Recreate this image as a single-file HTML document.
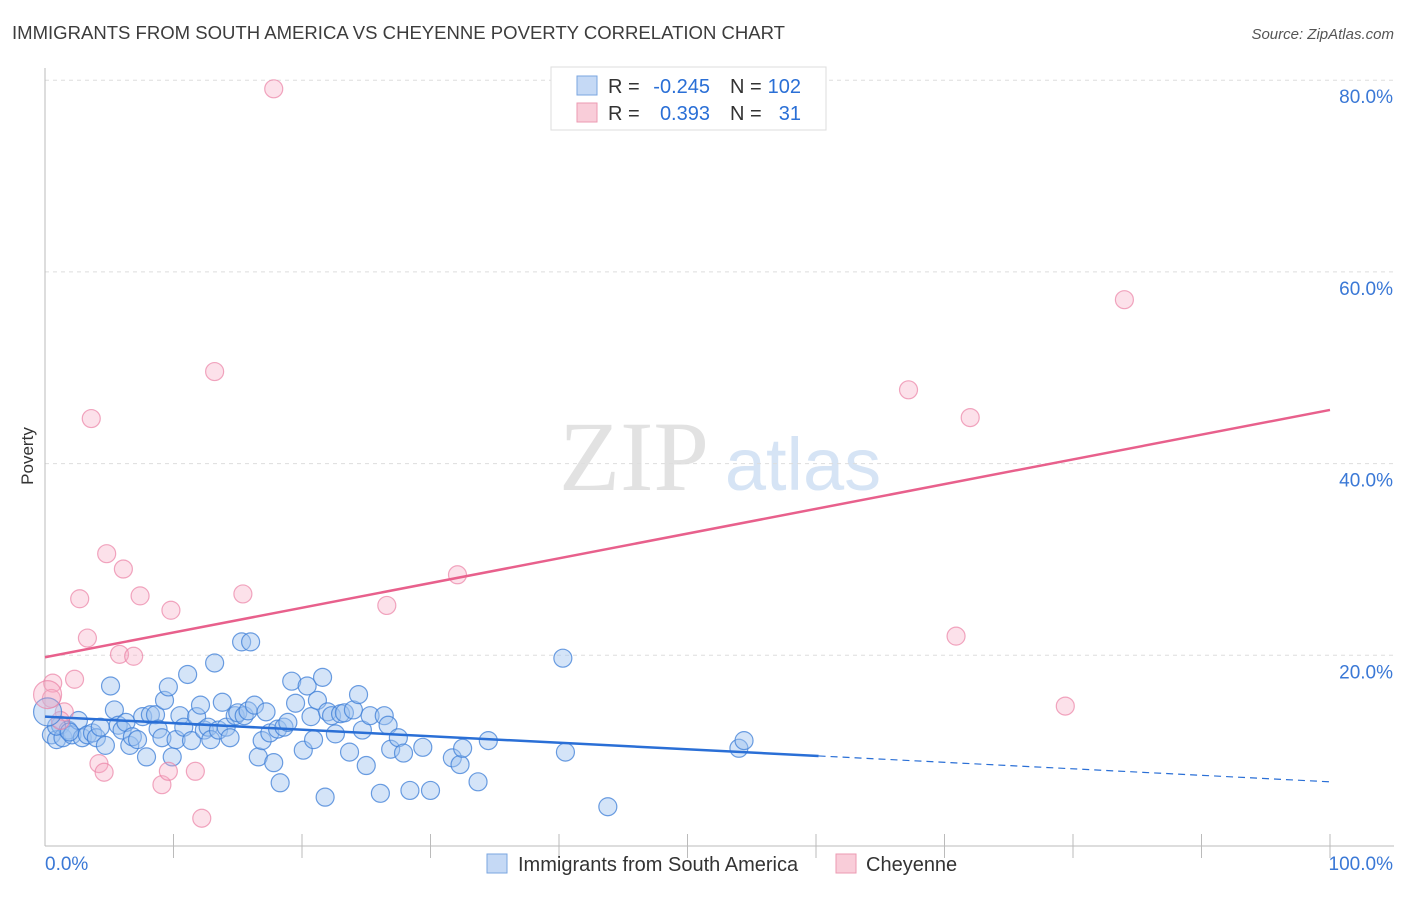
<!DOCTYPE html>
<html><head><meta charset="utf-8"><style>
body{margin:0;background:#fff;font-family:"Liberation Sans",sans-serif;}
</style></head><body>
<svg id="chart" width="1406" height="892" xmlns="http://www.w3.org/2000/svg" font-family="Liberation Sans, sans-serif">
<text x="12" y="39" font-size="18" fill="#3c3c3c" textLength="773" lengthAdjust="spacingAndGlyphs">IMMIGRANTS FROM SOUTH AMERICA VS CHEYENNE POVERTY CORRELATION CHART</text>
<text x="1394" y="39" font-size="15" fill="#555" font-style="italic" text-anchor="end">Source: ZipAtlas.com</text>
<text transform="translate(33,456) rotate(-90)" font-size="17" fill="#333" text-anchor="middle">Poverty</text>
<g>
<text x="634" y="490" font-size="100" fill="#e2e2e2" style="font-family:'Liberation Serif',serif" text-anchor="middle">ZIP</text>
<text x="803" y="490" font-size="74" fill="#d6e4f5" text-anchor="middle">atlas</text>
</g>
<g id="grid"></g><g id="axes"></g><g id="pts"></g><g id="lines"></g>
<g>
<rect x="551" y="67" width="275" height="63" fill="#fff" stroke="#ddd"/>
<rect x="577" y="76" width="20" height="19" fill="#c5d9f5" stroke="#7aa6e0"/>
<rect x="577" y="103" width="20" height="19" fill="#f9cdd9" stroke="#ec9ab2"/>
<text x="608" y="93" font-size="20" fill="#333">R =</text>
<text x="710" y="93" font-size="20" fill="#2a6fd6" text-anchor="end">-0.245</text>
<text x="730" y="93" font-size="20" fill="#333">N =</text>
<text x="801" y="93" font-size="20" fill="#2a6fd6" text-anchor="end">102</text>
<text x="608" y="120" font-size="20" fill="#333">R =</text>
<text x="710" y="120" font-size="20" fill="#2a6fd6" text-anchor="end">0.393</text>
<text x="730" y="120" font-size="20" fill="#333">N =</text>
<text x="801" y="120" font-size="20" fill="#2a6fd6" text-anchor="end">31</text>
</g>
<g>
<rect x="487" y="854" width="20" height="19" fill="#c5d9f5" stroke="#7aa6e0"/>
<text x="518" y="871" font-size="20" fill="#333">Immigrants from South America</text>
<rect x="836" y="854" width="20" height="19" fill="#f9cdd9" stroke="#ec9ab2"/>
<text x="866" y="871" font-size="20" fill="#333">Cheyenne</text>
</g>
</svg>
<script>
const blueX=[0.5,0.9,1.2,1.4,1.8,2.1,2.6,2.9,3.3,3.7,4.0,4.3,4.7,5.1,5.4,5.7,6.0,6.3,6.6,6.8,7.2,7.6,7.9,8.2,8.6,8.8,9.1,9.3,9.6,9.9,10.2,10.5,10.8,11.1,11.4,11.8,12.1,12.4,12.7,12.9,13.2,13.5,13.8,14.1,14.4,14.8,15.0,15.3,15.5,15.8,16.0,16.3,16.6,16.9,17.2,17.5,17.8,18.1,18.3,18.6,18.9,19.2,19.5,20.1,20.4,20.7,20.9,21.2,21.6,21.8,22.0,22.3,22.6,23.0,23.3,23.7,24.0,24.4,24.7,25.0,25.3,26.1,26.4,26.7,26.9,27.5,27.9,28.4,29.4,30.0,31.7,32.3,32.5,33.7,34.5,40.3,40.5,43.8,54.0,54.4,0.9,1.9];
const blueY=[11.7,11.2,12.7,11.4,12.2,11.7,13.2,11.4,11.7,11.9,11.4,12.5,10.6,16.8,14.3,12.7,12.2,13.0,10.6,11.5,11.2,13.6,9.4,13.8,13.8,12.3,11.4,15.3,16.7,9.4,11.2,13.7,12.5,18.0,11.1,13.6,14.8,12.2,12.5,11.2,19.2,12.2,15.1,12.5,11.4,13.7,14.0,21.4,13.7,14.2,21.4,14.8,9.4,11.1,14.1,11.9,8.8,12.3,6.7,12.5,13.0,17.3,15.0,10.1,16.8,13.6,11.2,15.3,17.7,5.2,14.1,13.7,11.8,13.9,14.0,9.9,14.3,15.9,12.2,8.5,13.7,5.6,13.7,12.7,10.2,11.4,9.8,5.9,10.4,5.9,9.3,8.6,10.3,6.8,11.1,19.7,9.9,4.2,10.3,11.1,12.6,12.0];
const pinkX=[17.8,13.2,3.6,4.8,6.1,2.7,7.4,9.8,15.4,3.3,5.8,6.9,0.6,2.3,1.5,4.2,4.6,9.1,9.6,11.7,12.2,26.6,32.1,67.2,72.0,84.0,70.9,79.4,0.5,1.2];
const pinkY=[79.1,49.6,44.7,30.6,29.0,25.9,26.2,24.7,26.4,21.8,20.1,19.9,17.1,17.5,14.1,8.7,7.8,6.5,7.9,7.9,3.0,25.2,28.4,47.7,44.8,57.1,22.0,14.7,15.5,13.2];
const bigPoints=[{s:'blue',x:0.2,y:14.1},{s:'pink',x:0.2,y:15.9}];
const yTicks=[20,40,60,80];
const yTickLabels=["20.0%","40.0%","60.0%","80.0%"];
const blueTrend=[13.6,9.5,6.8];
const pinkTrend=[19.8,45.6];
const NS="http://www.w3.org/2000/svg";
const X=v=>45+v*12.85, Y=v=>847-v*9.585;
function mk(t,a,p){const e=document.createElementNS(NS,t);for(const k in a)e.setAttribute(k,a[k]);p.appendChild(e);return e;}
const grid=document.getElementById('grid'),axes=document.getElementById('axes'),pts=document.getElementById('pts'),lines=document.getElementById('lines');
yTicks.forEach((t,i)=>{
 const l=mk('line',{x1:45,x2:1394,y1:Y(t),y2:Y(t),stroke:'#ddd','stroke-dasharray':'4,4'},grid);
 
 
 const tx=mk('text',{x:1393,y:Y(t)+23,'font-size':19,fill:'#3a78d6','text-anchor':'end'},axes);
 tx.textContent=yTickLabels[i];
 
 
});
let a=mk('line',{x1:45,x2:45,y1:68,y2:846,stroke:'#bbb'},axes);


a=mk('line',{x1:45,x2:1394,y1:846,y2:846,stroke:'#bbb'},axes);


for(let i=1;i<=10;i++){const t=mk('line',{x1:X(i*10),x2:X(i*10),y1:834,y2:858,stroke:'#bbb'},axes);
 
 }
[["0.0%",45,'start'],["100.0%",1393,'end']].forEach(d=>{const t=mk('text',{x:d[1],y:870,'font-size':19,fill:'#3a78d6','text-anchor':d[2]},axes);t.textContent=d[0];
 
 });
function dot(x,y,r,s){const c=mk('circle',{cx:X(x),cy:Y(y),r:r,fill:s=='blue'?'rgba(160,195,240,0.45)':'rgba(245,170,195,0.35)',stroke:s=='blue'?'rgba(60,125,215,0.75)':'rgba(235,130,165,0.7)','stroke-width':1.2},pts);
 
 }
blueX.forEach((x,i)=>dot(x,blueY[i],9,'blue'));
pinkX.forEach((x,i)=>dot(x,pinkY[i],9,'pink'));
bigPoints.forEach(p=>dot(p.x,p.y,14,p.s));
let l=mk('line',{x1:X(0),y1:Y(pinkTrend[0]),x2:X(100),y2:Y(pinkTrend[1]),stroke:'#e8608c','stroke-width':2.5},lines);


l=mk('line',{x1:X(0),y1:Y(blueTrend[0]),x2:X(60.2),y2:Y(blueTrend[1]),stroke:'#2a6fd6','stroke-width':2.5},lines);


l=mk('line',{x1:X(60.2),y1:Y(blueTrend[1]),x2:X(100),y2:Y(blueTrend[2]),stroke:'#2a6fd6','stroke-width':1.2,'stroke-dasharray':'7,5'},lines);


</script>
</body></html>
